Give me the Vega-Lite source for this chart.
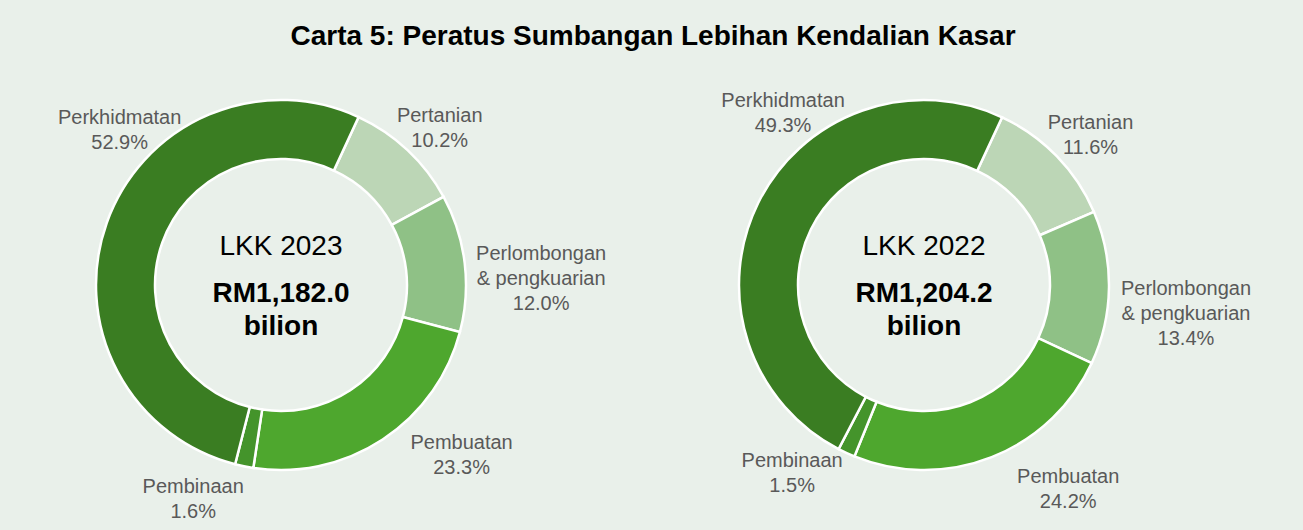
{
  "$schema": "https://vega.github.io/schema/vega-lite/v6.json",
  "background": "#e9f0ea",
  "padding": {"left": 5, "right": 60, "top": 22, "bottom": 30},
  "bounds": "flush",
  "title": {
    "text": "Carta 5: Peratus Sumbangan Lebihan Kendalian Kasar",
    "font": "Liberation Sans",
    "fontSize": 28,
    "fontWeight": "bold",
    "color": "#000000",
    "anchor": "middle",
    "dx": 25,
    "offset": 12
  },
  "config": {"view": {"stroke": null}, "text": {"font": "Liberation Sans", "fontSize": 20, "color": "#595959", "lineBreak": "\n", "lineHeight": 25}},
  "spacing": 91,
  "datasets": {
    "d": [
      {"tahun": 2023, "sektor": "Pertanian", "nilai": 10.2, "urutan": 1, "label": "Pertanian\n10.2%"},
      {"tahun": 2023, "sektor": "Perlombongan & pengkuarian", "nilai": 12.0, "urutan": 2, "label": "Perlombongan\n& pengkuarian\n12.0%"},
      {"tahun": 2023, "sektor": "Pembuatan", "nilai": 23.3, "urutan": 3, "label": "Pembuatan\n23.3%"},
      {"tahun": 2023, "sektor": "Pembinaan", "nilai": 1.6, "urutan": 4, "label": "Pembinaan\n1.6%"},
      {"tahun": 2023, "sektor": "Perkhidmatan", "nilai": 52.9, "urutan": 5, "label": "Perkhidmatan\n52.9%"},
      {"tahun": 2022, "sektor": "Pertanian", "nilai": 11.6, "urutan": 1, "label": "Pertanian\n11.6%"},
      {"tahun": 2022, "sektor": "Perlombongan & pengkuarian", "nilai": 13.4, "urutan": 2, "label": "Perlombongan\n& pengkuarian\n13.4%"},
      {"tahun": 2022, "sektor": "Pembuatan", "nilai": 24.2, "urutan": 3, "label": "Pembuatan\n24.2%"},
      {"tahun": 2022, "sektor": "Pembinaan", "nilai": 1.5, "urutan": 4, "label": "Pembinaan\n1.5%"},
      {"tahun": 2022, "sektor": "Perkhidmatan", "nilai": 49.3, "urutan": 5, "label": "Perkhidmatan\n49.3%"}
    ],
    "c": [
      {"tahun": 2023, "lkk": "LKK 2023", "rm": "RM1,182.0", "unit": "bilion"},
      {"tahun": 2022, "lkk": "LKK 2022", "rm": "RM1,204.2", "unit": "bilion"}
    ]
  },
  "hconcat": [
    {
      "width": 552,
      "height": 440,
      "data": {"name": "d"},
      "transform": [{"filter": "datum.tahun == 2023"}],
      "encoding": {
        "theta": {"field": "nilai", "type": "quantitative", "stack": true, "scale": {"range": [0.433, 6.716]}},
        "order": {"field": "urutan", "type": "quantitative"}
      },
      "layer": [
        {
          "mark": {"type": "arc", "innerRadius": 126, "outerRadius": 185, "stroke": "#ffffff", "strokeWidth": 2.5},
          "encoding": {
            "color": {"field": "sektor", "type": "nominal", "legend": null,
              "scale": {"domain": ["Pertanian", "Perlombongan & pengkuarian", "Pembuatan", "Pembinaan", "Perkhidmatan"],
                        "range": ["#bcd6b6", "#8fc186", "#4ea72e", "#44942b", "#3a7d22"]}}
          }
        },
        {
          "mark": {"type": "text", "radius": 232},
          "encoding": {"text": {"condition": {"test": "datum.urutan == 1", "field": "label"}, "value": ""}}
        },
        {
          "mark": {"type": "text", "radius": 262},
          "encoding": {"text": {"condition": {"test": "datum.urutan == 2", "field": "label"}, "value": ""}}
        },
        {
          "mark": {"type": "text", "radius": 240, "thetaOffset": -0.27},
          "encoding": {"text": {"condition": {"test": "datum.urutan == 3", "field": "label"}, "value": ""}}
        },
        {
          "mark": {"type": "text", "radius": 220, "thetaOffset": 0.21},
          "encoding": {"text": {"condition": {"test": "datum.urutan == 4", "field": "label"}, "value": ""}}
        },
        {
          "mark": {"type": "text", "radius": 232, "thetaOffset": 0.46},
          "encoding": {"text": {"condition": {"test": "datum.urutan == 5", "field": "label"}, "value": ""}}
        },
        {
          "data": {"name": "c"},
          "transform": [{"filter": "datum.tahun == 2023"}],
          "mark": {"type": "text", "fontSize": 28, "color": "#000000", "baseline": "alphabetic", "dy": -30},
          "encoding": {"text": {"field": "lkk", "type": "nominal"}, "theta": null, "order": null}
        },
        {
          "data": {"name": "c"},
          "transform": [{"filter": "datum.tahun == 2023"}],
          "mark": {"type": "text", "fontSize": 28, "fontWeight": "bold", "color": "#000000", "baseline": "alphabetic", "dy": 17},
          "encoding": {"text": {"field": "rm", "type": "nominal"}, "theta": null, "order": null}
        },
        {
          "data": {"name": "c"},
          "transform": [{"filter": "datum.tahun == 2023"}],
          "mark": {"type": "text", "fontSize": 28, "fontWeight": "bold", "color": "#000000", "baseline": "alphabetic", "dy": 50},
          "encoding": {"text": {"field": "unit", "type": "nominal"}, "theta": null, "order": null}
        }
      ]
    },
    {
      "width": 552,
      "height": 440,
      "data": {"name": "d"},
      "transform": [{"filter": "datum.tahun == 2022"}],
      "encoding": {
        "theta": {"field": "nilai", "type": "quantitative", "stack": true, "scale": {"range": [0.436, 6.719]}},
        "order": {"field": "urutan", "type": "quantitative"}
      },
      "layer": [
        {
          "mark": {"type": "arc", "innerRadius": 126, "outerRadius": 185, "stroke": "#ffffff", "strokeWidth": 2.5},
          "encoding": {
            "color": {"field": "sektor", "type": "nominal", "legend": null,
              "scale": {"domain": ["Pertanian", "Perlombongan & pengkuarian", "Pembuatan", "Pembinaan", "Perkhidmatan"],
                        "range": ["#bcd6b6", "#8fc186", "#4ea72e", "#44942b", "#3a7d22"]}}
          }
        },
        {
          "mark": {"type": "text", "radius": 232},
          "encoding": {"text": {"condition": {"test": "datum.urutan == 1", "field": "label"}, "value": ""}}
        },
        {
          "mark": {"type": "text", "radius": 262},
          "encoding": {"text": {"condition": {"test": "datum.urutan == 2", "field": "label"}, "value": ""}}
        },
        {
          "mark": {"type": "text", "radius": 240, "thetaOffset": -0.27},
          "encoding": {"text": {"condition": {"test": "datum.urutan == 3", "field": "label"}, "value": ""}}
        },
        {
          "mark": {"type": "text", "radius": 220, "thetaOffset": 0.21},
          "encoding": {"text": {"condition": {"test": "datum.urutan == 4", "field": "label"}, "value": ""}}
        },
        {
          "mark": {"type": "text", "radius": 232, "thetaOffset": 0.46},
          "encoding": {"text": {"condition": {"test": "datum.urutan == 5", "field": "label"}, "value": ""}}
        },
        {
          "data": {"name": "c"},
          "transform": [{"filter": "datum.tahun == 2022"}],
          "mark": {"type": "text", "fontSize": 28, "color": "#000000", "baseline": "alphabetic", "dy": -30},
          "encoding": {"text": {"field": "lkk", "type": "nominal"}, "theta": null, "order": null}
        },
        {
          "data": {"name": "c"},
          "transform": [{"filter": "datum.tahun == 2022"}],
          "mark": {"type": "text", "fontSize": 28, "fontWeight": "bold", "color": "#000000", "baseline": "alphabetic", "dy": 17},
          "encoding": {"text": {"field": "rm", "type": "nominal"}, "theta": null, "order": null}
        },
        {
          "data": {"name": "c"},
          "transform": [{"filter": "datum.tahun == 2022"}],
          "mark": {"type": "text", "fontSize": 28, "fontWeight": "bold", "color": "#000000", "baseline": "alphabetic", "dy": 50},
          "encoding": {"text": {"field": "unit", "type": "nominal"}, "theta": null, "order": null}
        }
      ]
    }
  ]
}
